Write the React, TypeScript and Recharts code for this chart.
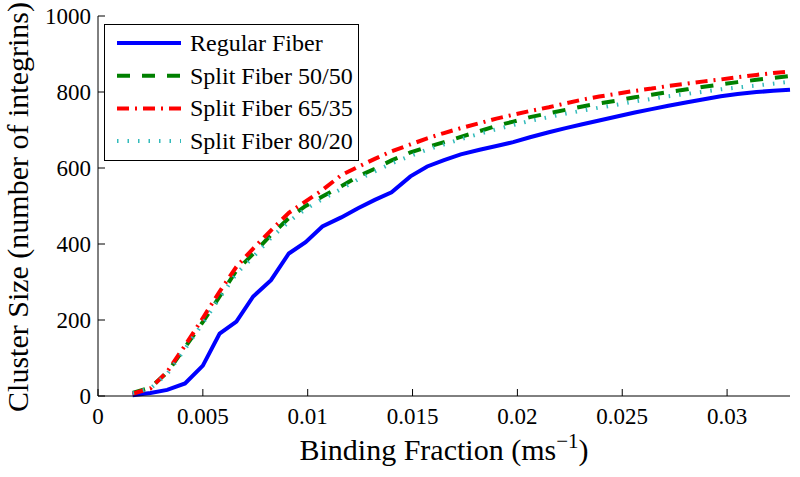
import { LineChart, Line, XAxis, YAxis, Legend } from 'recharts';

// Binding fraction (ms^-1) sample points
const bindingFraction = [
  0.00165, 0.0025, 0.0033, 0.00415, 0.005, 0.0058, 0.0066, 0.0074, 0.00825, 0.0091,
  0.0099, 0.0107, 0.0116, 0.0124, 0.0132, 0.014, 0.0149, 0.0157, 0.0165, 0.0173,
  0.0182, 0.019, 0.0198, 0.0206, 0.0215, 0.0223, 0.0231, 0.0239, 0.0248, 0.0256,
  0.0264, 0.0272, 0.0281, 0.0289, 0.0297, 0.0305, 0.0314, 0.0322, 0.033,
];

const regularFiber = [
  2, 8, 16, 33, 80, 164, 196, 262, 305, 375,
  405, 446, 470, 494, 516, 536, 578, 604, 621, 636,
  648, 658, 668, 681, 694, 705, 715, 725, 736, 746,
  755, 764, 773, 781, 789, 795, 800, 803, 806,
];

const split5050 = [
  8, 22, 62, 128, 195, 262, 330, 374, 424, 468,
  500, 525, 552, 578, 598, 620, 641, 655, 668, 682,
  697, 711, 722, 734, 744, 753, 762, 770, 778, 786,
  793, 800, 807, 814, 820, 826, 832, 837, 842,
];

const split6535 = [
  6, 20, 64, 133, 205, 275, 340, 388, 436, 482,
  512, 542, 581, 603, 624, 644, 662, 678, 692, 705,
  718, 730, 740, 750, 760, 770, 780, 788, 796, 803,
  809, 816, 822, 828, 833, 839, 845, 850, 854,
];

const split8020 = [
  8, 20, 58, 124, 192, 258, 322, 366, 416, 459,
  492, 518, 545, 570, 591, 612, 632, 648, 662, 676,
  690, 702, 713, 724, 734, 743, 751, 759, 767, 775,
  782, 789, 795, 801, 807, 812, 817, 822, 827,
];

const xTicks = [0, 0.005, 0.01, 0.015, 0.02, 0.025, 0.03];
const yTicks = [0, 200, 400, 600, 800, 1000];

const data = bindingFraction.map((x, i) => ({
  x,
  regular: regularFiber[i],
  s5050: split5050[i],
  s6535: split6535[i],
  s8020: split8020[i],
}));

const series = [
  { key: 'regular', name: 'Regular Fiber', color: '#0000FF', dash: undefined, width: 4 },
  { key: 's5050', name: 'Split Fiber 50/50', color: '#008000', dash: '13 12', width: 4 },
  { key: 's6535', name: 'Split Fiber 65/35', color: '#FF0000', dash: '12 6 2 6', width: 4 },
  { key: 's8020', name: 'Split Fiber 80/20', color: '#33BBBB', dash: '1.5 9', width: 4 },
];

const font = '"Liberation Serif", "Times New Roman", serif';
const tickStyle = { fill: '#000', fontSize: 23, fontFamily: font };

function LegendBox() {
  return (
    <svg width={256} height={138} style={{ display: 'block' }}>
      <rect x={0.5} y={0.5} width={254} height={136} fill="#fff" stroke="#000" strokeWidth={1} />
      {series.map((s, i) => {
        const cy = 19 + i * 32.7;
        return (
          <g key={s.key}>
            <line
              x1={13}
              x2={77}
              y1={cy}
              y2={cy}
              stroke={s.color}
              strokeWidth={s.width}
              strokeDasharray={s.dash}
            />
            <text x={86} y={cy + 8} fontSize={24} fontFamily={font} fill="#000">
              {s.name}
            </text>
          </g>
        );
      })}
    </svg>
  );
}

function XLabel(props: any) {
  const vb = props.viewBox;
  const cx = vb.x + vb.width / 2;
  return (
    <text x={cx} y={460} textAnchor="middle" fontSize={30} fontFamily={font} fill="#000">
      Binding Fraction (ms
      <tspan dy={-12} fontSize={21}>−1</tspan>
      <tspan dy={12}>)</tspan>
    </text>
  );
}

function YLabel() {
  return (
    <text
      x={28}
      y={207}
      transform="rotate(-90, 28, 207)"
      textAnchor="middle"
      fontSize={30}
      fontFamily={font}
      fill="#000"
    >
      Cluster Size (number of integrins)
    </text>
  );
}

export default function App() {
  return (
    <div style={{ position: 'absolute', left: 0, top: 0, background: '#fff' }}>
      <LineChart
        width={800}
        height={477}
        data={data}
        margin={{ top: 16, right: 10, bottom: 0, left: 0 }}
      >
        <XAxis
          dataKey="x"
          type="number"
          domain={[0, 0.033]}
          ticks={xTicks}
          height={81}
          stroke="#000"
          tickSize={-7}
          tickMargin={19}
          tick={tickStyle}
          label={<XLabel />}
        />
        <XAxis
          xAxisId="top"
          dataKey="x"
          type="number"
          orientation="top"
          domain={[0, 0.033]}
          ticks={xTicks}
          height={0}
          stroke="#000"
          tickSize={-7}
          tickFormatter={() => ''}
        />
        <YAxis
          domain={[0, 1000]}
          ticks={yTicks}
          width={98}
          stroke="#000"
          tickSize={-7}
          tickMargin={14}
          tick={tickStyle}
          label={<YLabel />}
        />
        <YAxis
          yAxisId="right"
          orientation="right"
          domain={[0, 1000]}
          ticks={yTicks}
          width={0}
          stroke="#000"
          tickSize={-7}
          tickFormatter={() => ''}
        />
        {series.map((s) => (
          <Line
            key={s.key}
            type="linear"
            dataKey={s.key}
            name={s.name}
            stroke={s.color}
            strokeWidth={s.width}
            strokeDasharray={s.dash}
            dot={false}
            activeDot={false}
            isAnimationActive={false}
          />
        ))}
        <Legend
          layout="vertical"
          align="center"
          verticalAlign="middle"
          content={() => <LegendBox />}
          wrapperStyle={{ position: 'absolute', left: 104, top: 24, width: 256, height: 138 }}
        />
      </LineChart>
    </div>
  );
}
